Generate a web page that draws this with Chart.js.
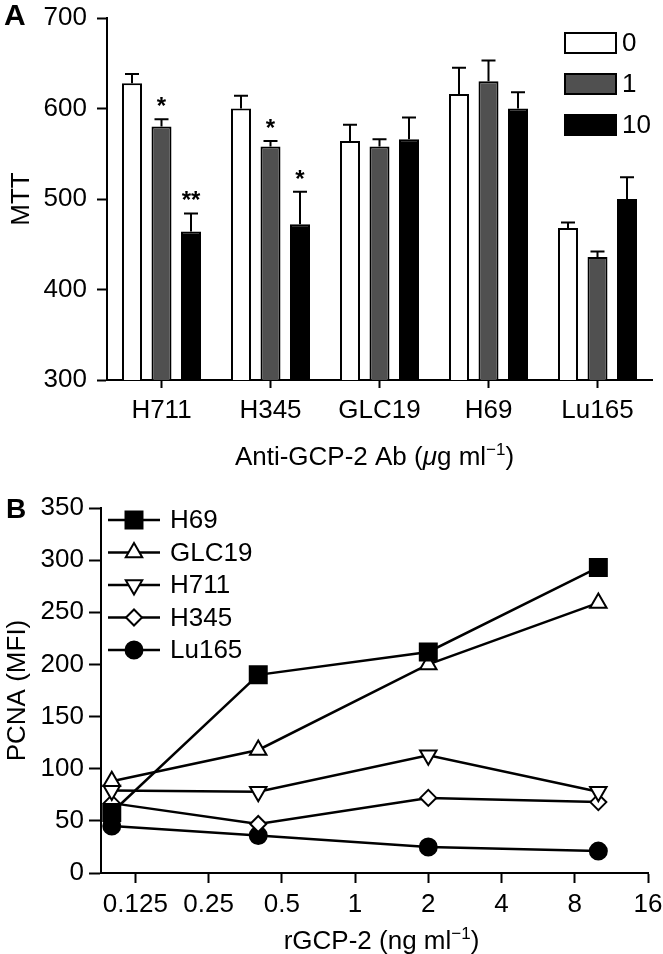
<!DOCTYPE html>
<html>
<head>
<meta charset="utf-8">
<script src="https://cdn.jsdelivr.net/npm/chart.js@4.4.1/dist/chart.umd.min.js"></script>
<style>
  html, body { margin: 0; padding: 0; background: #fff; }
  #wrapA { position: absolute; left: 0; top: 0; width: 663px; height: 480px; }
  #wrapB { position: absolute; left: 0; top: 480px; width: 663px; height: 474px; }
</style>
</head>
<body>
<div id="wrapA"><canvas id="chartA"></canvas></div>
<div id="wrapB"><canvas id="chartB"></canvas></div>
<script>
// Panel A : MTT par lignée et dose d'anticorps
const lignees = ['H711', 'H345', 'GLC19', 'H69', 'Lu165'];
const doses = ['0', '1', '10'];
const mtt0 = [628, 600, 564, 616, 468];
const mtt1 = [580, 558, 558, 630, 436];
const mtt10 = [464, 472, 566, 600, 500];
const err0 = [10, 14, 18, 29, 6];
const err1 = [8, 6, 8, 23, 6];
const err10 = [20, 36, 24, 18, 24];
const sig0 = ['', '', '', '', ''];
const sig1 = ['*', '*', '', '', ''];
const sig10 = ['**', '*', '', '', ''];
const mttTicks = [300, 400, 500, 600, 700];

// Panel B : PCNA en fonction de rGCP-2
const rgcp = [0.1, 0.4, 2, 10];
const doseTicks = [0.125, 0.25, 0.5, 1, 2, 4, 8, 16];
const pcnaH69 = [58, 190, 212, 293];
const pcnaGLC19 = [88, 118, 200, 259];
const pcnaH711 = [79, 78, 113, 78];
const pcnaH345 = [67, 47, 72, 68];
const pcnaLu165 = [45, 36, 25, 21];
const pcnaTicks = [0, 50, 100, 150, 200, 250, 300, 350];

const FONT = "'Liberation Sans', Arial, sans-serif";
const FS = 26;
Chart.defaults.font.family = FONT;
Chart.defaults.font.size = FS;
Chart.defaults.color = '#000';
Chart.defaults.animation = false;

// texte avec exposant (ex: ml^-1)
function drawRichText(ctx, parts, cx, cy) {
    ctx.save();
    ctx.textBaseline = 'alphabetic';
    ctx.textAlign = 'left';
    let total = 0;
    parts.forEach(p => {
        ctx.font = (p.italic ? 'italic ' : '') + (p.sup ? 17 : FS) + 'px ' + FONT;
        p.w = ctx.measureText(p.t).width;
        total += p.w;
    });
    let x = cx - total / 2;
    const base = cy + 9;
    parts.forEach(p => {
        ctx.font = (p.italic ? 'italic ' : '') + (p.sup ? 17 : FS) + 'px ' + FONT;
        ctx.fillStyle = '#000';
        ctx.fillText(p.t, x, p.sup ? base - 10 : base);
        x += p.w;
    });
    ctx.restore();
}

// pas de marge automatique autour des axes
function noPadY(s, w) { s.width = w; s.paddingTop = 0; s.paddingBottom = 0; }
function noPadX(s, h) { s.height = h; s.paddingLeft = 0; s.paddingRight = 0; }

// barres d'erreur + astérisques
const errorBarsPlugin = {
    id: 'errorBars',
    afterDatasetsDraw(chart) {
        const ctx = chart.ctx;
        const y = chart.scales.y;
        ctx.save();
        ctx.strokeStyle = '#000';
        ctx.lineWidth = 2;
        ctx.fillStyle = '#000';
        ctx.font = 'bold 24px ' + FONT;
        ctx.textAlign = 'center';
        ctx.textBaseline = 'alphabetic';
        chart.data.datasets.forEach((ds, i) => {
            chart.getDatasetMeta(i).data.forEach((bar, j) => {
                const top = y.getPixelForValue(ds.data[j] + ds.err[j]);
                ctx.beginPath();
                ctx.moveTo(bar.x, bar.y);
                ctx.lineTo(bar.x, top);
                ctx.moveTo(bar.x - 7, top);
                ctx.lineTo(bar.x + 7, top);
                ctx.stroke();
                if (ds.sig[j]) ctx.fillText(ds.sig[j], bar.x, top - 5);
            });
        });
        ctx.restore();
    }
};

// légende et titres du panneau A
const decorAPlugin = {
    id: 'decorA',
    afterDraw(chart) {
        const ctx = chart.ctx;
        ctx.save();
        chart.data.datasets.forEach((ds, i) => {
            const yc = 43 + i * 41;
            ctx.fillStyle = ds.backgroundColor;
            ctx.fillRect(565, yc - 10, 51, 20);
            ctx.strokeStyle = '#000';
            ctx.lineWidth = 2;
            ctx.strokeRect(565, yc - 10, 51, 20);
            ctx.fillStyle = '#000';
            ctx.font = FS + 'px ' + FONT;
            ctx.textAlign = 'left';
            ctx.textBaseline = 'middle';
            ctx.fillText(ds.label, 622, yc + 1);
        });
        ctx.font = 'bold 30px ' + FONT;
        ctx.textAlign = 'left';
        ctx.textBaseline = 'alphabetic';
        ctx.fillText('A', 4, 25);
        ctx.restore();
        const a = chart.chartArea;
        drawRichText(ctx, [
            {t: 'Anti-GCP-2 Ab ('}, {t: 'μ', italic: true}, {t: 'g ml'}, {t: '−1', sup: true}, {t: ')'}
        ], (a.left + a.right) / 2 - 5, 456);
    }
};

new Chart(document.getElementById('chartA'), {
    type: 'bar',
    data: {
        labels: lignees,
        datasets: [
            {label: doses[0], data: mtt0, err: err0, sig: sig0, backgroundColor: '#ffffff'},
            {label: doses[1], data: mtt1, err: err1, sig: sig1, backgroundColor: '#505050'},
            {label: doses[2], data: mtt10, err: err10, sig: sig10, backgroundColor: '#000000'}
        ]
    },
    options: {
        responsive: true,
        maintainAspectRatio: false,
        animation: false,
        layout: {padding: {top: 18, right: 11, left: 0, bottom: 0}},
        datasets: {bar: {borderColor: '#000', borderWidth: 2, borderSkipped: false,
            barPercentage: 0.678, categoryPercentage: 0.812}},
        plugins: {legend: {display: false}, tooltip: {enabled: false}},
        scales: {
            x: {
                grid: {drawOnChartArea: false, offset: false, tickLength: 8, tickWidth: 2, tickColor: '#000'},
                border: {color: '#000', width: 2},
                ticks: {padding: 7, maxRotation: 0},
                afterFit: s => noPadX(s, 100)
            },
            y: {
                min: 300, max: 700,
                afterBuildTicks: s => { s.ticks = mttTicks.map(v => ({value: v})); },
                grid: {drawOnChartArea: false, tickLength: 10, tickWidth: 2, tickColor: '#000'},
                border: {color: '#000', width: 2},
                ticks: {padding: 10},
                title: {display: true, text: 'MTT', padding: {top: 6, bottom: 0}},
                afterFit: s => noPadY(s, 107)
            }
        }
    },
    plugins: [errorBarsPlugin, decorAPlugin]
});

// Panel B
const seriesB = [
    {label: 'H69', values: pcnaH69, style: 'rect', radius: 12, fill: '#000', rot: 0},
    {label: 'GLC19', values: pcnaGLC19, style: 'triangle', radius: 9.5, fill: '#fff', rot: 0},
    {label: 'H711', values: pcnaH711, style: 'triangle', radius: 9.5, fill: '#fff', rot: 180},
    {label: 'H345', values: pcnaH345, style: 'rectRot', radius: 8, fill: '#fff', rot: 0},
    {label: 'Lu165', values: pcnaLu165, style: 'circle', radius: 8.5, fill: '#000', rot: 0}
];

const decorBPlugin = {
    id: 'decorB',
    afterDraw(chart) {
        const ctx = chart.ctx;
        ctx.save();
        chart.data.datasets.forEach((ds, i) => {
            const yc = 40 + i * 32.5;
            ctx.strokeStyle = '#000';
            ctx.lineWidth = 2.5;
            ctx.beginPath();
            ctx.moveTo(108, yc);
            ctx.lineTo(160, yc);
            ctx.stroke();
            ctx.fillStyle = ds.pointBackgroundColor;
            ctx.lineWidth = 2;
            Chart.helpers.drawPoint(ctx, {pointStyle: ds.pointStyle, radius: ds.pointRadius,
                rotation: ds.pointRotation, borderWidth: 2}, 134, yc);
            ctx.fillStyle = '#000';
            ctx.font = FS + 'px ' + FONT;
            ctx.textAlign = 'left';
            ctx.textBaseline = 'middle';
            ctx.fillText(ds.label, 170, yc + 1);
        });
        ctx.font = 'bold 28px ' + FONT;
        ctx.textAlign = 'left';
        ctx.textBaseline = 'alphabetic';
        ctx.fillText('B', 6, 38);
        ctx.restore();
        const a = chart.chartArea;
        drawRichText(ctx, [
            {t: 'rGCP-2 (ng ml'}, {t: '−1', sup: true}, {t: ')'}
        ], (a.left + a.right) / 2 + 7, 460);
    }
};

new Chart(document.getElementById('chartB'), {
    type: 'line',
    data: {
        datasets: seriesB.map(s => ({
            label: s.label,
            data: rgcp.map((x, i) => ({x: x, y: s.values[i]})),
            borderColor: '#000',
            borderWidth: 2.5,
            tension: 0,
            pointStyle: s.style,
            pointRadius: s.radius,
            pointRotation: s.rot,
            pointBackgroundColor: s.fill,
            pointBorderColor: '#000',
            pointBorderWidth: 2
        }))
    },
    options: {
        responsive: true,
        maintainAspectRatio: false,
        animation: false,
        layout: {padding: {top: 28, right: 15, left: 0, bottom: 0}},
        plugins: {legend: {display: false}, tooltip: {enabled: false}},
        scales: {
            x: {
                type: 'logarithmic',
                min: 0.0903, max: 16,
                afterBuildTicks: s => { s.ticks = doseTicks.map(v => ({value: v})); },
                ticks: {callback: v => String(v), padding: 6, autoSkip: false, maxRotation: 0},
                grid: {drawOnChartArea: false, tickLength: 10, tickWidth: 2, tickColor: '#000'},
                border: {color: '#000', width: 2},
                afterFit: s => noPadX(s, 81)
            },
            y: {
                min: 0, max: 350,
                afterBuildTicks: s => { s.ticks = pcnaTicks.map(v => ({value: v})); },
                grid: {drawOnChartArea: false, tickLength: 12, tickWidth: 2, tickColor: '#000'},
                border: {color: '#000', width: 2},
                ticks: {padding: 5},
                title: {display: true, text: 'PCNA (MFI)', padding: {top: 2, bottom: 0}},
                afterFit: s => noPadY(s, 101)
            }
        }
    },
    plugins: [decorBPlugin]
});
</script>
</body>
</html>
